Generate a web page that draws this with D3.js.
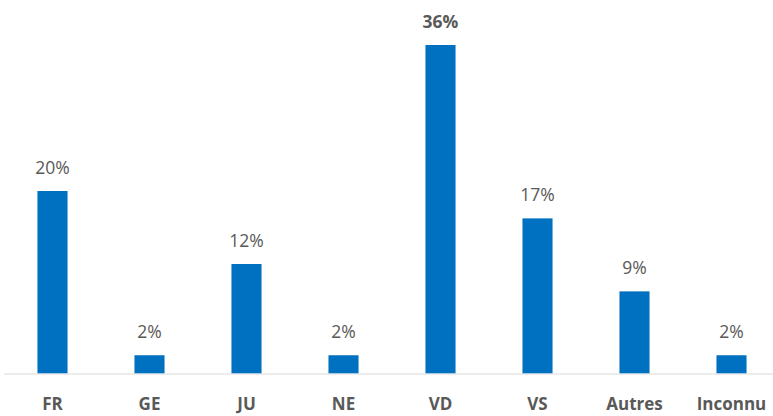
<!DOCTYPE html>
<html>
<head>
<meta charset="utf-8">
<script src="https://cdn.jsdelivr.net/npm/d3@7"></script>
<style>
  body { margin:0; background:#fff; }
  text { font-family: "Open Sans", sans-serif; fill:#595959; }
</style>
</head>
<body>
<div id="chart-area"></div>
<script>
const categories = ['FR','GE','JU','NE','VD','VS','Autres','Inconnu'];
const values = [20, 2, 12, 2, 36, 17, 9, 2];
const boldLabels = ['VD'];

const width = 773, height = 416;
const baseline = 373.5;

var svg = d3.select("#chart-area").append("svg")
    .attr("width", width)
    .attr("height", height);

var xScale = d3.scaleBand()
    .domain(categories)
    .range([4, 780])
    .paddingInner(0.69)
    .paddingOuter(0.345);

var yScale = d3.scaleLinear()
    .domain([0, 36])
    .range([baseline, 45]);

var data = categories.map((c, i) => ({cat: c, val: values[i]}));

svg.selectAll("rect.bar")
   .data(data)
   .enter()
   .append("rect")
   .attr("class", "bar")
   .attr("x", d => xScale(d.cat))
   .attr("y", d => yScale(d.val))
   .attr("width", xScale.bandwidth())
   .attr("height", d => baseline - yScale(d.val))
   .attr("fill", "#0070C0");

// axis line
svg.append("line")
   .attr("x1", 4).attr("x2", 773)
   .attr("y1", baseline + 0.5).attr("y2", baseline + 0.5)
   .attr("stroke", "#D9D9D9").attr("stroke-width", 1);

// data labels
svg.selectAll("text.val")
   .data(data)
   .enter()
   .append("text")
   .attr("class", "val")
   .attr("x", d => xScale(d.cat) + xScale.bandwidth()/2)
   .attr("y", d => yScale(d.val) - 17)
   .attr("text-anchor", "middle")
   .attr("font-size", "17.5px")
   .attr("font-weight", d => boldLabels.includes(d.cat) ? "bold" : "normal")
   .text(d => d.val + "%");

// category labels
svg.selectAll("text.cat")
   .data(data)
   .enter()
   .append("text")
   .attr("class", "cat")
   .attr("x", d => xScale(d.cat) + xScale.bandwidth()/2)
   .attr("y", 410)
   .attr("text-anchor", "middle")
   .attr("font-size", "17px")
   .attr("font-weight", "bold")
   .text(d => d.cat);
</script>
</body>
</html>
